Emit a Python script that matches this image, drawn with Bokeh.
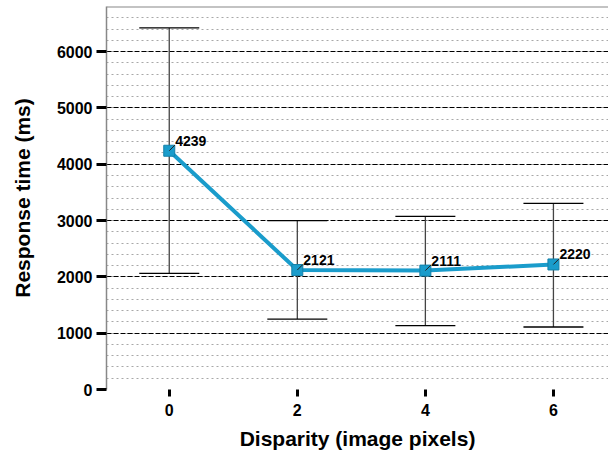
from bokeh.plotting import figure
from bokeh.models import ColumnDataSource, Whisker, TeeHead, FixedTicker, SingleIntervalTicker, Range1d, Span
from bokeh.core.properties import value
from bokeh.embed import file_html
from bokeh.resources import INLINE
import math

disparity = [0, 2, 4, 6]
response = [4239, 2121, 2111, 2220]
err_upper = [6420, 3000, 3075, 3305]
err_lower = [2060, 1250, 1135, 1110]
labels = ["4239", "2121", "2111", "2220"]
x_ticks = [0, 2, 4, 6]
y_top = 6800

FONT = "Liberation Sans"
BLUE = "#1a9ccb"

src = ColumnDataSource(dict(x=disparity, y=response, up=err_upper, lo=err_lower, lab=labels))

p = figure(width=608, height=458, output_backend="svg", toolbar_location=None,
           x_range=Range1d(-0.98, 6.86), y_range=Range1d(0, y_top))
p.min_border_left = 106
p.min_border_right = 0
p.min_border_top = 6
p.min_border_bottom = 69
p.background_fill_color = "white"
p.border_fill_color = "white"
p.outline_line_color = None

# grids
p.xgrid.grid_line_color = None
p.yaxis.ticker = SingleIntervalTicker(interval=1000, num_minor_ticks=5)
p.ygrid.grid_line_color = "black"
p.ygrid.grid_line_dash = "5 2"
p.ygrid.grid_line_width = 1
p.ygrid.minor_grid_line_color = "#a8a8a8"
p.ygrid.minor_grid_line_dash = "2 3"
p.ygrid.minor_grid_line_width = 1

# top border
p.add_layout(Span(location=y_top, dimension="width", line_color="#888888", line_width=2))

# axes
p.xaxis.ticker = FixedTicker(ticks=x_ticks)
for ax in (p.xaxis, p.yaxis):
    ax.major_label_text_font = FONT
    ax.major_label_text_font_style = "bold"
    ax.major_label_text_font_size = "16px"
    ax.major_label_text_color = "black"
    ax.axis_label_text_font = FONT
    ax.axis_label_text_font_style = "bold"
    ax.axis_label_text_font_size = "21px"
    ax.axis_label_text_color = "black"
    ax.major_tick_line_color = "black"
    ax.major_tick_line_width = 3
    ax.major_tick_in = 0
    ax.minor_tick_line_color = None

p.yaxis.axis_label = "Response time (ms)"
p.yaxis.major_tick_out = 10
p.yaxis.major_label_standoff = 4
p.yaxis.axis_label_standoff = 20
p.yaxis.axis_line_color = "#888888"
p.yaxis.axis_line_width = 1.5

p.xaxis.axis_label = "Disparity (image pixels)"
p.xaxis.major_tick_out = 7
p.xaxis.major_label_standoff = 7
p.xaxis.axis_label_standoff = 8
p.xaxis.axis_line_color = None

# error bars
w = Whisker(base="x", upper="up", lower="lo", source=src,
            line_color="#444444", line_width=1.3,
            upper_head=TeeHead(size=60, line_color="black", line_width=1.3),
            lower_head=TeeHead(size=60, line_color="black", line_width=1.3))
p.add_layout(w)

# line + markers
p.line("x", "y", source=src, line_color=BLUE, line_width=4)
p.scatter("x", "y", source=src, marker="square", size=11, fill_color=BLUE, line_color="#1580a8", line_width=1)

# leader ticks
p.ray("x", "y", source=src, length=8, length_units="screen", angle=math.pi / 4,
      line_color="#222222", line_width=1)

# value labels
p.text("x", "y", text="lab", source=src, x_offset=6, y_offset=-5,
       text_font=value(FONT), text_font_style="bold", text_font_size="14px",
       text_baseline="bottom", text_align="left", text_color="black")

open("out.html", "w").write(file_html(p, INLINE))
